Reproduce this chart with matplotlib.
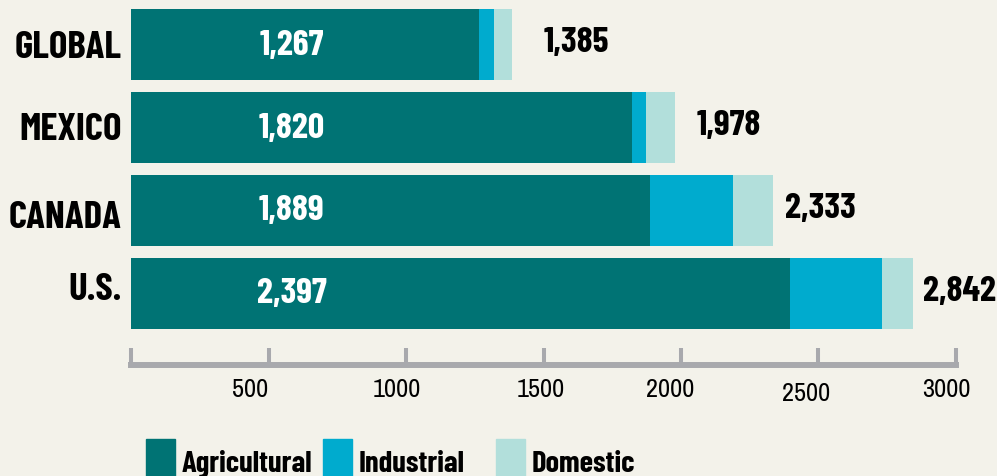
import matplotlib
matplotlib.use("Agg")
import matplotlib.pyplot as plt
from matplotlib.patches import Rectangle
from matplotlib.transforms import ScaledTranslation

regions = ["GLOBAL", "MEXICO", "CANADA", "U.S."]
agricultural = [1267, 1820, 1889, 2397]
industrial = [54, 54, 301, 333]
domestic = [64, 104, 143, 112]
totals = [1385, 1978, 2333, 2842]
x_ticks = [0, 500, 1000, 1500, 2000, 2500, 3000]
x_labels = ["", "500", "1000", "1500", "2000", "2500", "3000"]

c_agr = "#007374"
c_ind = "#00abce"
c_dom = "#b2dfdb"
bg = "#f3f2ea"
cond = ["Barlow Condensed", "DejaVu Sans"]
narrow = ["Archivo Narrow", "DejaVu Sans"]

plt.rcParams["font.family"] = cond

fig = plt.figure(figsize=(9.97, 4.77), dpi=100, facecolor=bg)
ax = fig.add_axes([131 / 997, 147 / 477, 825 / 997, 320 / 477], facecolor=bg)

y = list(range(len(regions)))
h = 0.855
left2 = [a + b for a, b in zip(agricultural, industrial)]
ax.barh(y, agricultural, height=h, color=c_agr)
ax.barh(y, industrial, left=agricultural, height=h, color=c_ind)
ax.barh(y, domestic, left=left2, height=h, color=c_dom)

ax.set_xlim(0, 3000)
ax.set_ylim(3.43, -0.43)

# values inside the agricultural part
for yi, v in zip(y, agricultural):
    ax.text(585, yi, f"{v:,}", color="white", fontsize=26, fontweight="bold",
            ha="center", va="center")

# totals at the end of the bars (gap in px, like the original)
gaps = [32, 22, 12, 10]
for yi, a, b, c, t, g in zip(y, agricultural, industrial, domestic, totals, gaps):
    ax.annotate(f"{t:,}", (a + b + c, yi), xytext=(g * 0.72, 2), textcoords="offset points",
                fontsize=26, fontweight="bold", ha="left", va="center", color="black")

for s in ["top", "right", "left"]:
    ax.spines[s].set_visible(False)
ax.spines["bottom"].set_position(("outward", 26))
ax.spines["bottom"].set_bounds(0, 3000)
ax.spines["bottom"].set_color("#a8a9ad")
ax.spines["bottom"].set_linewidth(4.3)

ax.set_xticks(x_ticks)
ax.set_xticklabels(x_labels, family=narrow)
ax.tick_params(axis="x", direction="in", length=12, width=2.9, color="#a8a9ad",
               pad=8.6, labelsize=19)
shifts = [0, -18, -9, -3, -11, -12, -10]
drops = [0, 0, 0, 0, 0, -4, 0]
for lab, dx, dy in zip(ax.get_xticklabels(), shifts, drops):
    lab.set_transform(lab.get_transform() + ScaledTranslation(dx / 100, dy / 100, fig.dpi_scale_trans))

ax.set_yticks(y)
ax.set_yticklabels(regions, fontsize=28, fontweight="bold")
ax.tick_params(axis="y", length=0, pad=6.5)
for lab, dy in zip(ax.get_yticklabels(), [1, 2, -3, 8]):
    lab.set_transform(lab.get_transform() + ScaledTranslation(0, dy / 100, fig.dpi_scale_trans))

# legend row
legend = [("Agricultural", c_agr, 146), ("Industrial", c_ind, 323), ("Domestic", c_dom, 496)]
for name, col, px in legend:
    fig.add_artist(Rectangle((px / 997, 0), 29 / 997, 37 / 477, color=col,
                             transform=fig.transFigure))
    fig.text((px + 36) / 997, 5 / 477, name, fontsize=22, fontweight="bold",
             va="baseline", ha="left")

fig.savefig("out.png", dpi=100, facecolor=bg)
